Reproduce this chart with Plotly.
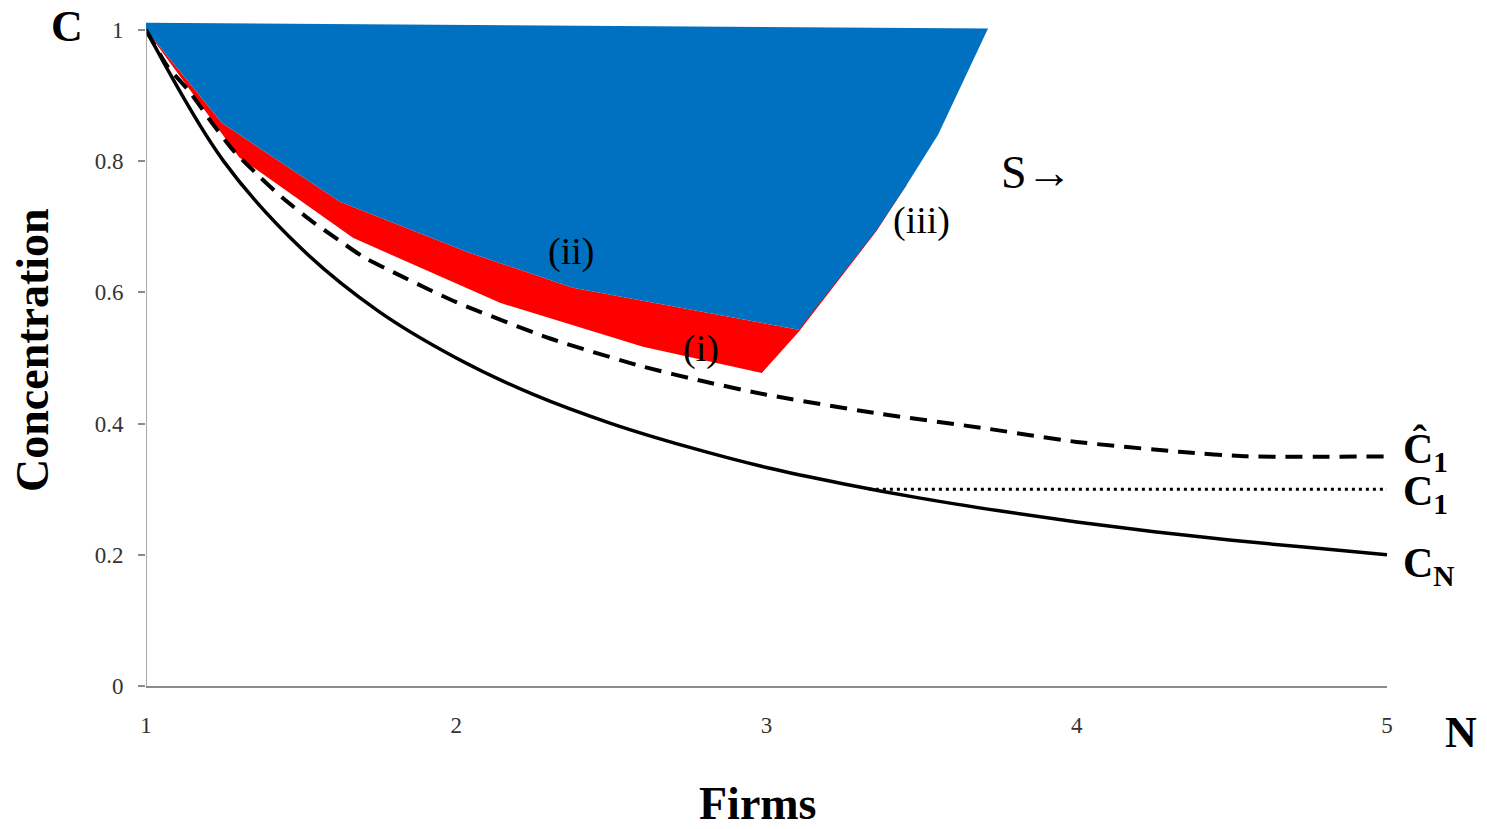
import plotly.graph_objects as go

# ---------------- data ----------------
n_cn = [1, 1.25, 1.5, 1.75, 2, 2.25, 2.5, 2.75, 3, 3.25, 3.5, 3.75, 4, 4.25, 4.5, 4.75, 5]
c_n = [1.0, 0.8, 0.667, 0.571, 0.5, 0.444, 0.4, 0.364, 0.333, 0.308, 0.286, 0.267,
       0.25, 0.235, 0.222, 0.211, 0.2]

n_hat = [1, 1.07, 1.14, 1.21, 1.28, 1.36, 1.44, 1.53, 1.62, 1.7, 1.8, 1.9, 2.0,
         2.3, 2.6, 2.8, 3.0, 3.35, 3.7, 4.0, 4.33, 4.55, 5]
c_hat = [1.0, 0.944, 0.906, 0.860, 0.817, 0.779, 0.744, 0.710, 0.680, 0.654, 0.630,
         0.607, 0.585, 0.530, 0.487, 0.464, 0.444, 0.416, 0.393, 0.372, 0.357, 0.350, 0.350]

n_c1 = [3.33, 5]
c_1 = [0.3, 0.3]

# region (i): red band
n_red = [1, 1.30, 1.667, 2.044, 2.141, 2.602, 2.985, 3.104, 3.354, 3.452,
         3.2, 3.104, 2.376, 2.044, 1.625, 1.245, 1]
c_red = [1.0, 0.806, 0.683, 0.604, 0.584, 0.517, 0.477, 0.540, 0.693, 0.764,
         0.75, 0.543, 0.607, 0.660, 0.738, 0.858, 1.0]

# region (ii): blue area
n_blue = [1, 3.714, 3.553, 3.452, 3.355, 3.104, 2.376, 2.044, 1.625, 1.245, 1]
c_blue = [1.011, 1.002, 0.840, 0.764, 0.695, 0.543, 0.607, 0.660, 0.738, 0.858, 1.0]

x_ticks = [1, 2, 3, 4, 5]
y_ticks = [0, 0.2, 0.4, 0.6, 0.8, 1]
y_ticktext = ["0", "0.2", "0.4", "0.6", "0.8", "1"]

# ---------------- figure ----------------
W, H = 1487, 829
L, R, T, B = 146, 100, 22, 143
FONT = "Liberation Serif"
AXC = "#8c8c8c"

fig = go.Figure()
fig.add_trace(go.Scatter(x=n_red, y=c_red, fill="toself", fillcolor="#FF0000",
                         line=dict(width=0, color="#FF0000"), mode="lines",
                         hoverinfo="skip", showlegend=False))
fig.add_trace(go.Scatter(x=n_blue, y=c_blue, fill="toself", fillcolor="#0070C0",
                         line=dict(width=0, color="#0070C0"), mode="lines",
                         hoverinfo="skip", showlegend=False))
fig.add_trace(go.Scatter(x=n_cn, y=c_n, mode="lines",
                         line=dict(color="black", width=3.5, shape="spline"),
                         showlegend=False))
fig.add_trace(go.Scatter(x=n_hat, y=c_hat, mode="lines",
                         line=dict(color="black", width=4, dash="17px,10px",
                                   shape="spline", smoothing=0.6),
                         showlegend=False))
fig.add_trace(go.Scatter(x=n_c1, y=c_1, mode="lines",
                         line=dict(color="black", width=3, dash="3px,4px"),
                         showlegend=False))

# y axis line drawn from 0 to 1 only
fig.add_shape(type="line", xref="x", yref="y", x0=1, x1=1, y0=0, y1=1,
              line=dict(color=AXC, width=1.5))

pw = W - L - R
ph = H - T - B


def px(xp):
    return (xp - L) / pw


def py(yp):
    return (H - B - yp) / ph


def ann(text, xp, yp, size, bold=False, angle=0, xanchor="center", yanchor="middle"):
    t = f"<b>{text}</b>" if bold else text
    fig.add_annotation(text=t, xref="paper", yref="paper", x=px(xp), y=py(yp),
                       showarrow=False, xanchor=xanchor, yanchor=yanchor,
                       textangle=angle, font=dict(family=FONT, size=size, color="black"))


ann("C", 67, 27, 44, bold=True)
ann("Concentration", 32, 350, 46, bold=True, angle=-90)
ann("Firms", 758, 803, 46, bold=True)
ann("N", 1461, 732, 44, bold=True)
ann("Ĉ<sub>1</sub>", 1401, 451, 42, bold=True, xanchor="left")
ann("C<sub>1</sub>", 1401, 494, 42, bold=True, xanchor="left")
ann("C<sub>N</sub>", 1401, 566, 42, bold=True, xanchor="left")
ann("(ii)", 571, 252, 38)
ann("(i)", 701, 348, 38)
ann("(iii)", 922, 220, 38)
ann("S→", 1037, 172, 46)

fig.update_layout(
    width=W, height=H,
    margin=dict(l=L, r=R, t=T, b=B, pad=0),
    paper_bgcolor="white", plot_bgcolor="white",
    font=dict(family=FONT, color="#333333"),
    xaxis=dict(range=[1, 5], tickvals=x_ticks, ticks="", showgrid=False,
               zeroline=False, showline=True, linecolor=AXC, linewidth=1.5,
               tickfont=dict(family=FONT, size=23, color="#333333"),
               ticklabelstandoff=18),
    yaxis=dict(range=[0, 1.012], tickvals=y_ticks, ticktext=y_ticktext,
               ticks="outside", ticklen=7, tickcolor=AXC, tickwidth=1.5,
               showgrid=False, zeroline=False, showline=False,
               tickfont=dict(family=FONT, size=23, color="#333333"),
               ticklabelstandoff=10),
)

fig.write_html("out.html", config={"displayModeBar": False},
               post_script="document.body.style.margin='0px';document.body.style.overflow='hidden';")
